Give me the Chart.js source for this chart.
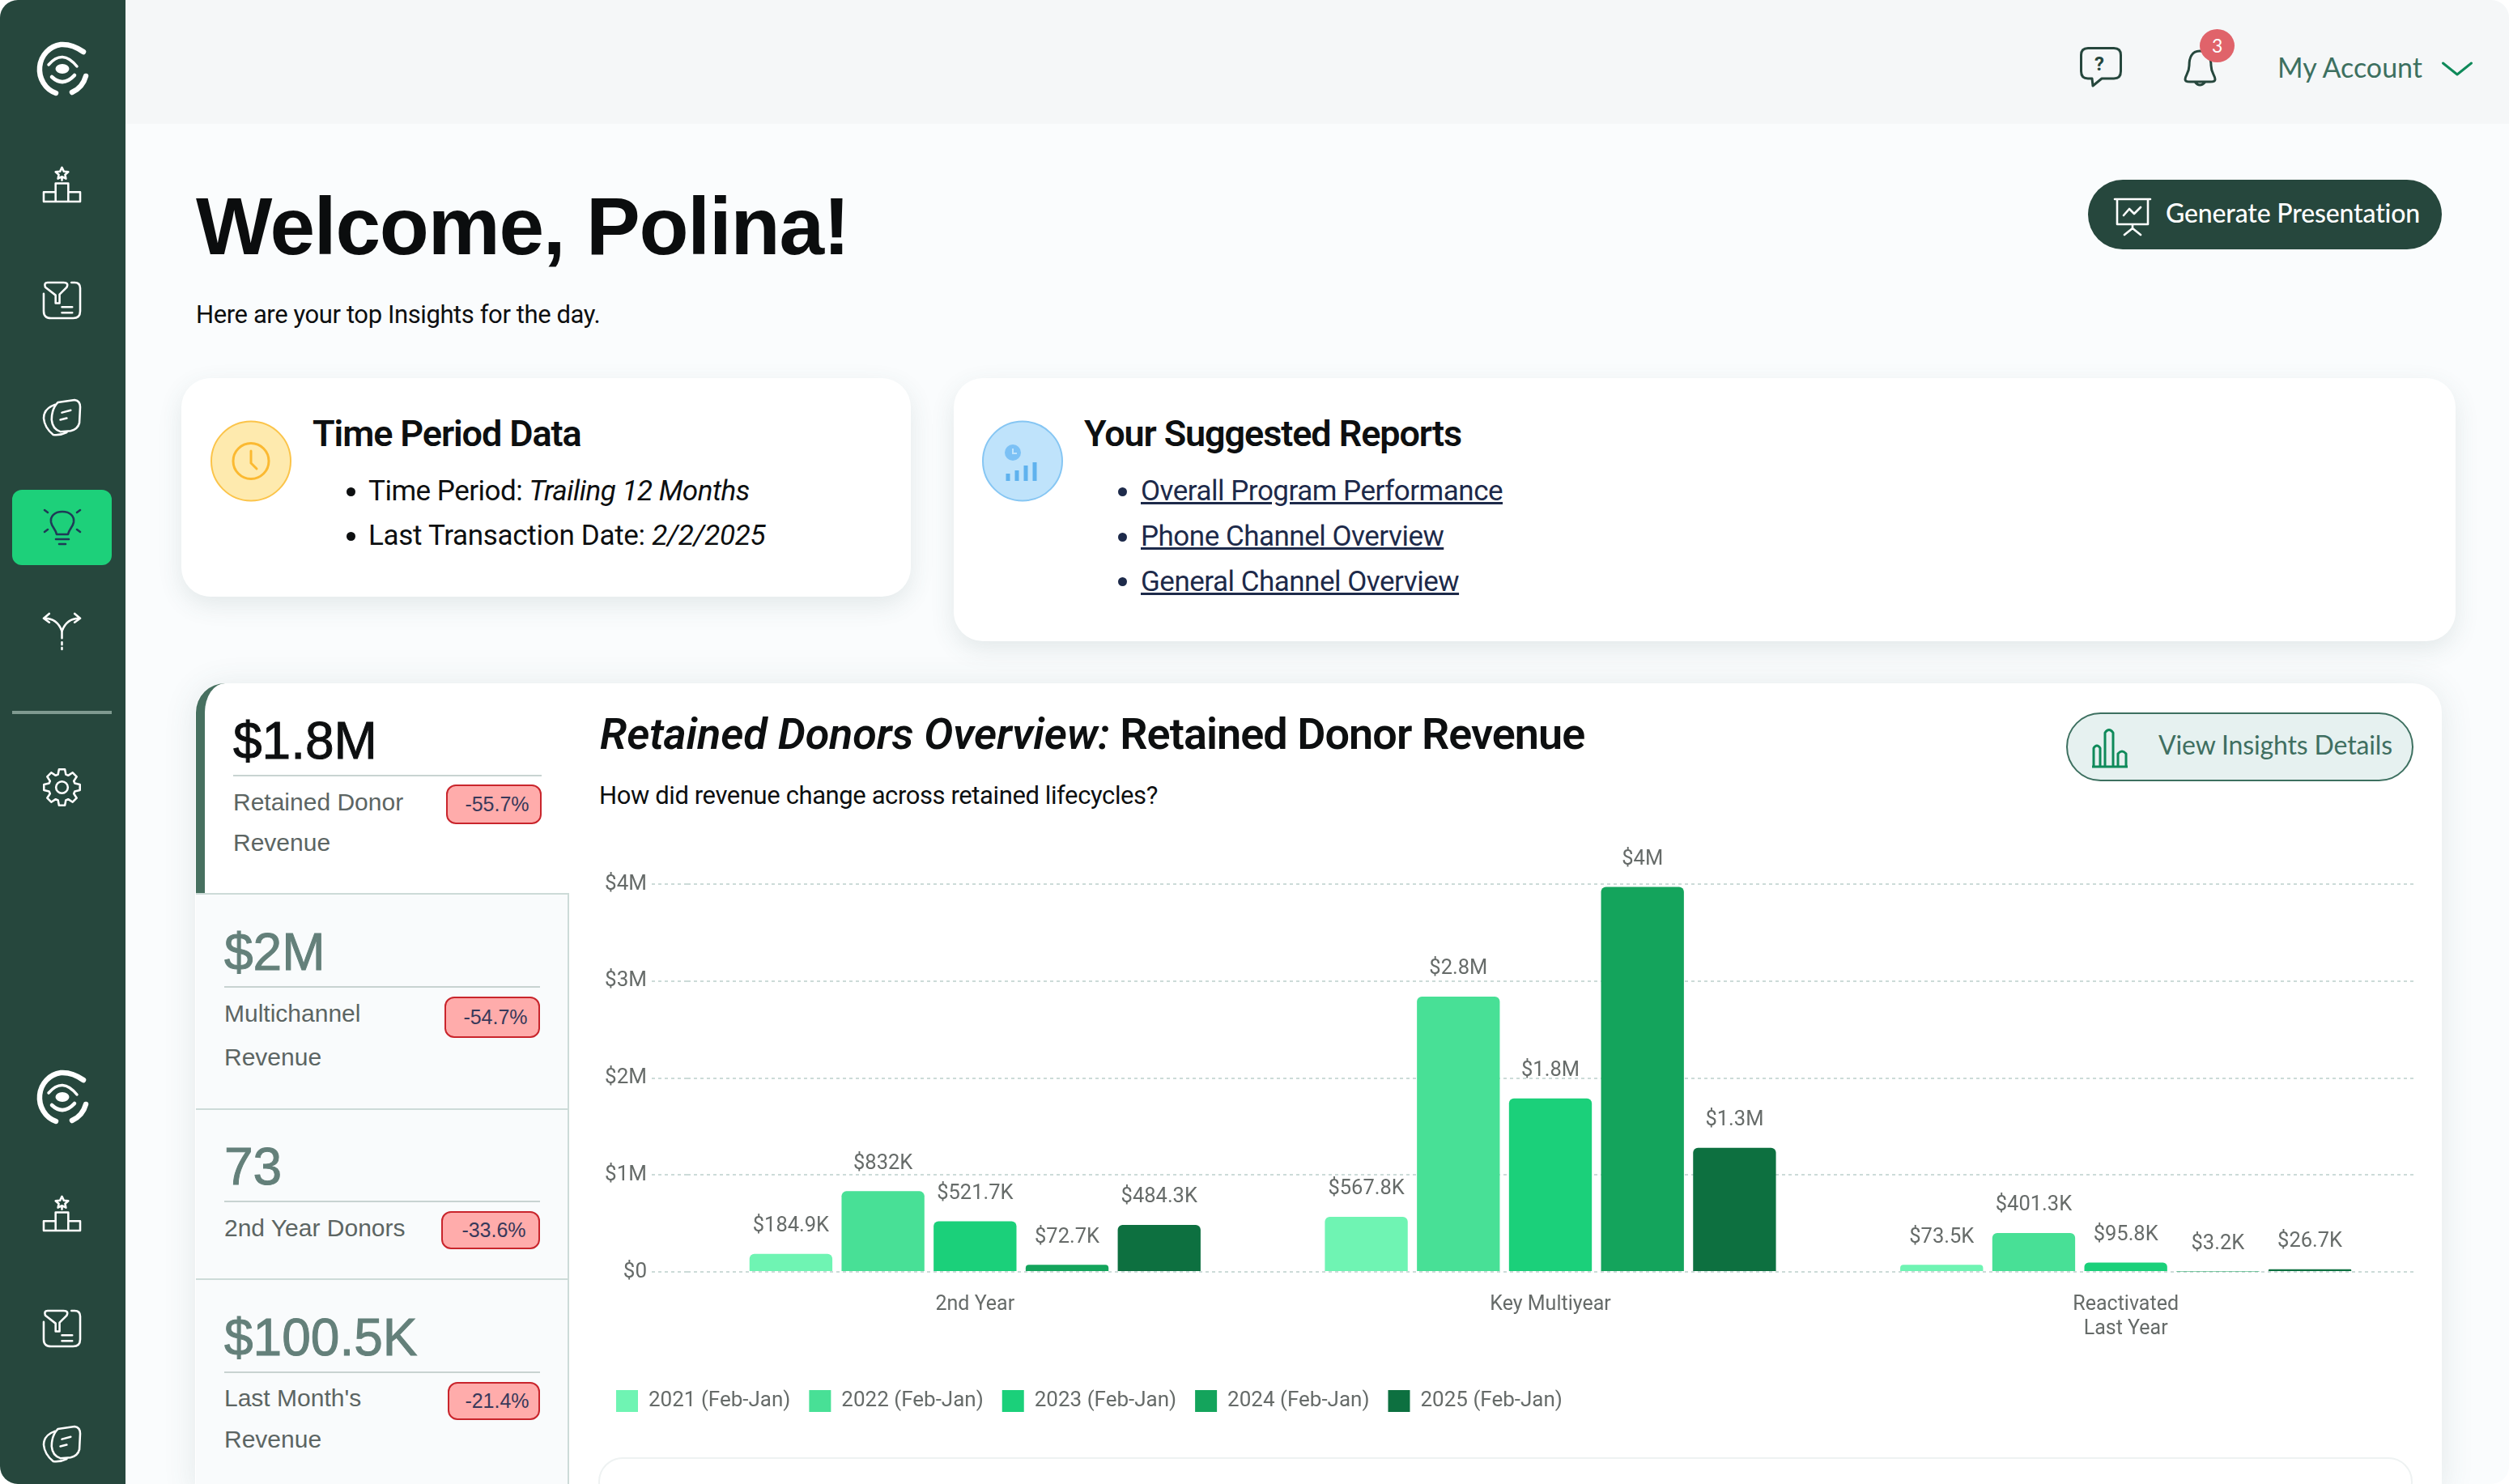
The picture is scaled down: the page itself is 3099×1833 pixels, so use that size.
<!DOCTYPE html>
<html>
<head>
<meta charset="utf-8">
<title>Welcome, Polina!</title>
<script src="https://cdn.jsdelivr.net/npm/chart.js@4"></script>
<style>
  html, body { margin: 0; padding: 0; background: #fff; }
  body { width: 3099px; height: 1833px; position: relative; overflow: hidden; font-family: Roboto, sans-serif; color: #0d0f10; }
  .box { position: absolute; box-sizing: border-box; }
  .t { position: absolute; white-space: nowrap; line-height: 1; }
  svg { position: absolute; overflow: visible; }
  .ic { fill: none; stroke: #fff; stroke-width: 2.6; stroke-linecap: round; stroke-linejoin: round; }
  .kpi { font-family: "Liberation Sans", sans-serif; font-size: 64px; color: #64807a; -webkit-text-stroke: 1px currentColor; }
  .lbl { font-family: "Liberation Sans", sans-serif; font-size: 30px; color: #5c6563; }
  .rule { position: absolute; height: 2px; background: #c8d3d1; }
  .badge { position: absolute; box-sizing: border-box; background: #ffacab; border: 2px solid #c9252c; border-radius: 12px; font-family: "Liberation Sans", sans-serif; font-size: 25px; color: #38395a; display: flex; align-items: center; justify-content: center; padding-left: 8px; }
  .row { position: absolute; left: 242px; width: 461px; box-sizing: border-box; background: #f9fbfc; border-top: 2px solid #cddbd8; border-right: 2px solid #cddbd8; }
  .dot { position: absolute; width: 11px; height: 11px; border-radius: 50%; background: #0d0f10; }
  .link { color: #1d2a4a; text-decoration: underline; }
  .body-line { font-size: 35px; letter-spacing: -0.500px; }
  .card-title { font-size: 45px; font-weight: 600; letter-spacing: -1.100px; }
</style>
</head>
<body>

<svg width="0" height="0">
  <defs>
    <symbol id="logo" viewBox="0 0 64 66" overflow="visible">
      <g fill="none" stroke="#fff" stroke-linecap="round">
        <path stroke-width="6.500" d="M58 12 Q44 2 30 3 A30 31 0 0 0 24 63" />
        <path stroke-width="6.500" d="M44 62 A30 31 0 0 0 61 42" />
        <path stroke-width="3.500" d="M15 28 Q32 8 50 30" />
        <path stroke-width="4.500" d="M19 43 Q33 56 47 41" />
      </g>
      <ellipse cx="32" cy="33" rx="8.500" ry="6" fill="#fff" />
    </symbol>
    <symbol id="podium" viewBox="0 0 48 48" overflow="visible">
      <g class="ic">
        <path d="M1 46 V34 H16 V46 Z M16 46 V23 H32 V46 M32 34 H47 V46 H1" />
        <path d="M24 19 V16 M24 3 L26.500 8 L32 8.500 L28 12 L29 17 L24 14.500 L19 17 L20 12 L16 8.500 L21.500 8 Z" />
      </g>
    </symbol>
    <symbol id="funnel" viewBox="0 0 48 48" overflow="visible">
      <g class="ic">
        <path d="M6 2 H26 Q33 2 30 8 L21 17 V28 H16 V18 L3 8 Q1 2 6 2 Z" />
        <path d="M36 2 H40 Q47 2 47 9 V38 Q47 47 38 47 H10 Q1 47 1 38 V16" />
        <path d="M24 33 H37 M24 40 H37" />
      </g>
    </symbol>
    <symbol id="cards" viewBox="0 0 48 48" overflow="visible">
      <g class="ic">
        <path d="M15 7 Q1 12 1 24 Q2 36 13 45 Q22 46 30 42" />
        <path d="M19 4 L40 1 Q47 2 47 10 L46 30 Q44 38 35 40 L22 41 Q12 38 11 26 Q11 12 19 4 Z" />
        <path d="M24 17 L35 14 M22 26 L30 24" />
      </g>
    </symbol>
    <symbol id="split" viewBox="0 0 48 48" overflow="visible">
      <g class="ic">
        <path d="M2 8 Q18 8 24 24 Q30 8 46 8 M8 2 L1 8 L8 13 M40 2 L47 8 L40 13" />
        <path d="M24 24 V33 M24 38 V41 M24 45 V47" />
      </g>
    </symbol>
    <symbol id="gear" viewBox="0 0 48 48" overflow="visible">
      <g class="ic"><path id="gearPath" d="" /><circle cx="24" cy="24" r="7.500" /></g>
    </symbol>
  </defs>
</svg>

<!-- page background -->
<div class="box" style="left:0;top:0;width:3099px;height:1833px;background:#fafcfd;border-radius:22px"></div>
<div class="box" style="left:155px;top:0;width:2944px;height:153px;background:#f5f7f8;border-top-right-radius:22px"></div>

<!-- sidebar -->
<div class="box" style="left:0;top:0;width:155px;height:1833px;background:#26473d;border-radius:22px 0 0 22px"></div>
<svg style="left:45px;top:52px" width="64" height="66"><use href="#logo" /></svg>
<svg style="left:53px;top:204px" width="47" height="47"><use href="#podium" /></svg>
<svg style="left:53px;top:347px" width="47" height="47"><use href="#funnel" /></svg>
<svg style="left:53px;top:493px" width="47" height="47"><use href="#cards" /></svg>
<div class="box" style="left:15px;top:605px;width:123px;height:93px;background:#1dd07a;border-radius:12px"></div>
<svg style="left:54px;top:628px" width="46" height="50" viewBox="0 0 46 50">
  <g fill="none" stroke="#1f3b57" stroke-width="2.6" stroke-linecap="round" stroke-linejoin="round">
    <path d="M23 4 C13 4 8 10 9 17 C10 23 15 26 16 32 H30 C31 26 36 23 37 17 C38 10 33 4 23 4 Z" />
    <path d="M15 38 H31 M19 44 H27 M1 2 L5 5 M45 2 L41 5 M1 29 L5 26 M45 29 L41 26" />
  </g>
</svg>
<svg style="left:53px;top:756px" width="47" height="47"><use href="#split" /></svg>
<div class="box" style="left:15px;top:878px;width:123px;height:4px;background:#7f9a90"></div>
<svg style="left:53px;top:949px" width="47" height="47"><use href="#gear" /></svg>
<svg style="left:45px;top:1322px" width="64" height="66"><use href="#logo" /></svg>
<svg style="left:53px;top:1475px" width="47" height="47"><use href="#podium" /></svg>
<svg style="left:53px;top:1617px" width="47" height="47"><use href="#funnel" /></svg>
<svg style="left:53px;top:1761px" width="47" height="47"><use href="#cards" /></svg>

<!-- top bar -->
<svg style="left:2569px;top:58px" width="52" height="50" viewBox="0 0 52 50">
  <path fill="none" stroke="#26473d" stroke-width="3" stroke-linejoin="round" d="M10 1.500 H42 Q50.500 1.500 50.500 10 V30 Q50.500 39 42 39 H27 L16 48 L15 39 H10 Q1.500 39 1.500 30 V10 Q1.500 1.500 10 1.500 Z" />
</svg>
<div class="t" style="left:2587px;top:67px;font-size:24px;font-weight:700;color:#26473d">?</div>
<svg style="left:2697px;top:60px" width="42" height="50" viewBox="0 0 42 50">
  <path fill="none" stroke="#26473d" stroke-width="3" stroke-linejoin="round" d="M20 3 C10 3 7 12 7 21 C7 30 2 33 2 38 Q2 41 8 41 H33 Q39 41 39 38 C39 33 34 30 34 21 C34 12 30 3 20 3 Z M14 41 Q20 49 27 41" />
</svg>
<div class="box" style="left:2717px;top:36px;width:43px;height:41px;border-radius:50%;background:#e0636a"></div>
<div class="t" style="left:2732px;top:45px;font-size:23px;color:#fff;font-family:Lato">3</div>
<div class="t" style="left:2813px;top:66px;font-family:Lato;font-size:34px;color:#3d7060">My Account</div>
<svg style="left:3016px;top:76px" width="38" height="18" viewBox="0 0 38 18">
  <path fill="none" stroke="#0f8a5a" stroke-width="3" stroke-linecap="round" stroke-linejoin="round" d="M1.500 2 L19 16 L36.500 2" />
</svg>

<!-- heading -->
<div class="t" style="left:242px;top:229px;font-family:'Liberation Sans';font-weight:700;font-size:100px;letter-spacing:-1.200px;color:#0b0d0e">Welcome, Polina!</div>
<div class="t" style="left:242px;top:373px;font-size:31px;letter-spacing:-0.400px">Here are your top Insights for the day.</div>
<div class="box" style="left:2579px;top:222px;width:437px;height:86px;background:#26473d;border-radius:43px"></div>
<svg style="left:2611px;top:244px" width="46" height="47" viewBox="0 0 46 47">
  <path fill="none" stroke="#fff" stroke-width="2.6" stroke-linecap="round" stroke-linejoin="round" d="M1 2 H45 M4 2 V33 H42 V2 M23 33 V38 M13 46 L23 38 L33 46 M12 22 L19 14 L25 20 L33 12" />
</svg>
<div class="t" style="left:2675px;top:247px;font-family:Lato;font-size:32px;letter-spacing:-0.150px;font-weight:500;color:#fff">Generate Presentation</div>

<!-- top cards -->
<div class="box" style="left:224px;top:467px;width:901px;height:270px;background:#fff;border-radius:36px;box-shadow:0 10px 30px rgba(60,90,90,.12)"></div>
<svg style="left:260px;top:519px" width="100" height="101" viewBox="0 0 100 101">
  <circle cx="50" cy="50.500" r="49" fill="#feeaae" stroke="#fbc44a" stroke-width="2" />
  <circle cx="50" cy="50.500" r="22" fill="none" stroke="#fbb931" stroke-width="3" />
  <path fill="none" stroke="#fbb931" stroke-width="3" stroke-linecap="round" d="M50 38 V53 L57 60" />
</svg>
<div class="t card-title" style="left:386px;top:513px">Time Period Data</div>
<div class="dot" style="left:428px;top:602px"></div>
<div class="t body-line" style="left:455px;top:589px">Time Period: <i>Trailing 12 Months</i></div>
<div class="dot" style="left:428px;top:657px"></div>
<div class="t body-line" style="left:455px;top:644px;letter-spacing:-0.300px">Last Transaction Date: <i>2/2/2025</i></div>

<div class="box" style="left:1178px;top:467px;width:1855px;height:325px;background:#fff;border-radius:36px;box-shadow:0 10px 30px rgba(60,90,90,.12)"></div>
<svg style="left:1213px;top:519px" width="100" height="101" viewBox="0 0 100 101">
  <circle cx="50" cy="50.500" r="49" fill="#bfe3fb" stroke="#86c6f3" stroke-width="2" />
  <circle cx="38" cy="40" r="10" fill="#7cc1f5" />
  <path fill="none" stroke="#bfe3fb" stroke-width="2" d="M38 35 V41 H43" />
  <path fill="none" stroke="#5fb2ee" stroke-width="5" d="M43 75 V62 M54 75 V56 M65 75 V52 M32 75 V66" />
</svg>
<div class="t card-title" style="left:1339px;top:513px">Your Suggested Reports</div>
<div class="dot" style="left:1381px;top:602px;background:#1d2a4a"></div>
<div class="t link body-line" style="left:1409px;top:589px">Overall Program Performance</div>
<div class="dot" style="left:1381px;top:658px;background:#1d2a4a"></div>
<div class="t link body-line" style="left:1409px;top:645px">Phone Channel Overview</div>
<div class="dot" style="left:1381px;top:713px;background:#1d2a4a"></div>
<div class="t link body-line" style="left:1409px;top:701px">General Channel Overview</div>

<!-- main card -->
<div class="box" style="left:241px;top:844px;width:2775px;height:1000px;background:#fff;border-radius:36px 36px 0 0;box-shadow:0 4px 40px rgba(60,90,90,.12)"></div>
<div class="box" style="left:242px;top:844px;width:50px;height:260px;border-left:11px solid #477060;border-top-left-radius:36px"></div>

<div class="t kpi" style="left:288px;top:883px;color:#0d0f10">$1.8M</div>
<div class="rule" style="left:288px;top:957px;width:381px"></div>
<div class="t lbl" style="left:288px;top:976px">Retained Donor</div>
<div class="t lbl" style="left:288px;top:1026px">Revenue</div>
<div class="badge" style="left:551px;top:969px;width:118px;height:49px">-55.7%</div>

<div class="row" style="top:1103px;height:267px"></div>
<div class="row" style="top:1369px;height:211px"></div>
<div class="row" style="top:1579px;height:260px"></div>

<div class="t kpi" style="left:277px;top:1144px">$2M</div>
<div class="rule" style="left:277px;top:1218px;width:390px"></div>
<div class="t lbl" style="left:277px;top:1237px">Multichannel</div>
<div class="t lbl" style="left:277px;top:1291px">Revenue</div>
<div class="badge" style="left:549px;top:1231px;width:118px;height:51px">-54.7%</div>

<div class="t kpi" style="left:277px;top:1409px">73</div>
<div class="rule" style="left:277px;top:1483px;width:390px"></div>
<div class="t lbl" style="left:277px;top:1502px">2nd Year Donors</div>
<div class="badge" style="left:545px;top:1496px;width:122px;height:47px">-33.6%</div>

<div class="t kpi" style="left:277px;top:1620px">$100.5K</div>
<div class="rule" style="left:277px;top:1694px;width:390px"></div>
<div class="t lbl" style="left:277px;top:1712px">Last Month's</div>
<div class="t lbl" style="left:277px;top:1763px">Revenue</div>
<div class="badge" style="left:553px;top:1707px;width:114px;height:47px">-21.4%</div>

<div class="t" style="left:741px;top:880px;font-size:54px;font-weight:600;letter-spacing:-0.950px"><i style="letter-spacing:-0.150px">Retained Donors Overview:</i> Retained Donor Revenue</div>
<div class="t" style="left:740px;top:967px;font-size:31px;letter-spacing:-0.400px">How did revenue change across retained lifecycles?</div>

<div class="box" style="left:2552px;top:880px;width:429px;height:85px;background:#e6f1f0;border:2px solid #3d7060;border-radius:43px"></div>
<svg style="left:2583px;top:900px" width="46" height="48" viewBox="0 0 46 48">
  <path fill="none" stroke="#0f8a5a" stroke-width="3" stroke-linejoin="round" d="M1 47 H45 M3 47 V24 Q7 18 11 24 V47 M17 47 V5 Q22 -2 27 5 V47 M33 47 V31 Q38 25 43 31 V47" />
</svg>
<div class="t" style="left:2666px;top:904px;font-family:Lato;font-size:32px;letter-spacing:-0.150px;color:#3f6f61">View Insights Details</div>

<canvas id="revenue-chart" style="position:absolute;left:738px;top:1030px" width="2243" height="724"></canvas>

<div class="box" style="left:739px;top:1800px;width:2241px;height:60px;background:#fff;border:2px solid #eef2f2;border-radius:30px"></div>

<script>
const categories = ["2nd Year", "Key Multiyear", ["Reactivated", "Last Year"]];
const seriesNames = ["2021 (Feb-Jan)", "2022 (Feb-Jan)", "2023 (Feb-Jan)", "2024 (Feb-Jan)", "2025 (Feb-Jan)"];
const revenue2021 = [184900, 567800, 73500];
const revenue2022 = [832000, 2840000, 401300];
const revenue2023 = [521700, 1790000, 95800];
const revenue2024 = [72700, 3970000, 3200];
const revenue2025 = [484300, 1280000, 26700];
const yTickLabels = ["$0", "$1M", "$2M", "$3M", "$4M"];
const seriesColors = ["#6ff4b3", "#48e096", "#1bd07a", "#14a45c", "#0d7040"];
const gridColor = "#ccdbd8";
const textColor = "#666b69";

//gear outline for the sidebar icon
let gear = "";
for (let i = 0; i < 8; i++) {
  const a = i * Math.PI / 4;
  const pt = (r, d) => (24 + r * Math.cos(a + d)).toFixed(1) + " " + (24 + r * Math.sin(a + d)).toFixed(1);
  gear += (i === 0 ? "M" : "L") + pt(17, -0.3) + " L" + pt(23, -0.16) + " L" + pt(23, 0.16) + " L" + pt(17, 0.3) + " ";
}
document.getElementById("gearPath").setAttribute("d", gear + "Z");

function money(v) {
  if (v >= 1000000) {
    return "$" + parseFloat((v / 1000000).toFixed(1)) + "M";
  }
  return "$" + parseFloat((v / 1000).toFixed(1)) + "K";
}

//value labels above each bar
const barLabels = {
  id: "barLabels",
  afterDatasetsDraw(chart) {
    const ctx = chart.ctx;
    ctx.save();
    ctx.font = "25.500px Roboto";
    ctx.fillStyle = textColor;
    ctx.textAlign = "center";
    ctx.textBaseline = "middle";
    chart.data.datasets.forEach((ds, i) => {
      chart.getDatasetMeta(i).data.forEach((bar, j) => {
        ctx.fillText(money(ds.data[j]), bar.x, bar.y - 34);
      });
    });
    ctx.restore();
  }
};

const allSeries = [revenue2021, revenue2022, revenue2023, revenue2024, revenue2025];

//Retained donor revenue chart
new Chart(document.getElementById("revenue-chart"), {
  type: "bar",
  data: {
    labels: categories,
    datasets: allSeries.map((values, i) => ({
      label: seriesNames[i],
      data: values,
      backgroundColor: seriesColors[i],
      borderRadius: { topLeft: 6, topRight: 6 },
      borderSkipped: "bottom",
      categoryPercentage: 0.8,
      barPercentage: 0.9
    }))
  },
  options: {
    responsive: false,
    animation: false,
    devicePixelRatio: 1,
    layout: { padding: { top: 62 } },
    plugins: {
      tooltip: { enabled: false },
      legend: {
        position: "bottom",
        align: "start",
        labels: {
          boxWidth: 27,
          boxHeight: 27,
          padding: 23,
          color: textColor,
          font: { family: "Roboto", size: 26 }
        }
      }
    },
    scales: {
      x: {
        grid: { display: false },
        border: { display: false },
        ticks: { padding: 18, color: textColor, maxRotation: 0, font: { family: "Roboto", size: 25 } },
        afterFit(scale) { scale.height = 123; }
      },
      y: {
        min: 0,
        max: 4000000,
        border: { display: false, dash: [4, 4] },
        grid: {
          color: gridColor,
          lineWidth: 2,
          tickLength: 44,
          tickColor: gridColor,
          tickWidth: 2,
          tickBorderDash: [4, 4]
        },
        ticks: {
          stepSize: 1000000,
          padding: 6,
          color: textColor,
          font: { family: "Roboto", size: 26 },
          callback: (v, i) => yTickLabels[i]
        },
        afterFit(scale) { scale.width = 111; }
      }
    }
  },
  plugins: [barLabels]
});
</script>
</body>
</html>
